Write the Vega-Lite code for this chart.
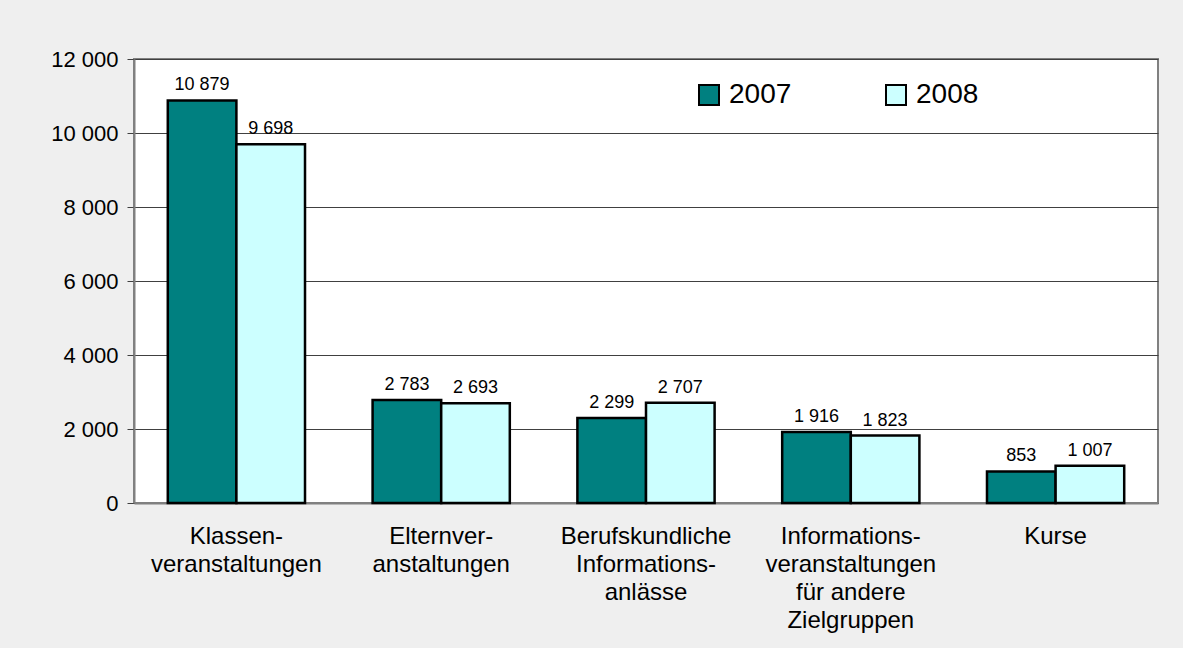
{
  "$schema": "https://vega.github.io/schema/vega-lite/v6.json",
  "width": 1024,
  "height": 444,
  "autosize": {"type": "none"},
  "padding": {"left": 134, "top": 59, "right": 25, "bottom": 145},
  "background": "#efefef",
  "config": {
    "locale": {"number": {"decimal": ",", "thousands": " ", "grouping": [3], "currency": ["", ""]}},
    "view": {"fill": "white", "stroke": "#808080", "strokeWidth": 2},
    "font": "Liberation Sans"
  },
  "data": {
    "values": [
      {"cat": "Klassen-|veranstaltungen", "year": "2007", "value": 10879},
      {"cat": "Klassen-|veranstaltungen", "year": "2008", "value": 9698},
      {"cat": "Elternver-|anstaltungen", "year": "2007", "value": 2783},
      {"cat": "Elternver-|anstaltungen", "year": "2008", "value": 2693},
      {"cat": "Berufskundliche|Informations-|anlässe", "year": "2007", "value": 2299},
      {"cat": "Berufskundliche|Informations-|anlässe", "year": "2008", "value": 2707},
      {"cat": "Informations-|veranstaltungen|für andere|Zielgruppen", "year": "2007", "value": 1916},
      {"cat": "Informations-|veranstaltungen|für andere|Zielgruppen", "year": "2008", "value": 1823},
      {"cat": "Kurse", "year": "2007", "value": 853},
      {"cat": "Kurse", "year": "2008", "value": 1007}
    ]
  },
  "encoding": {
    "x": {
      "field": "cat",
      "type": "nominal",
      "sort": null,
      "scale": {"paddingInner": 0.33, "paddingOuter": 0.165},
      "axis": {
        "title": null,
        "labelAngle": 0,
        "labelExpr": "split(datum.label, '|')",
        "labelFontSize": 24,
        "labelLineHeight": 28,
        "labelColor": "black",
        "labelPadding": 21,
        "labelLimit": 0,
        "ticks": false,
        "domainColor": "#808080",
        "domainWidth": 2,
        "labelBaseline": "top"
      }
    },
    "xOffset": {"field": "year", "type": "nominal", "sort": ["2007", "2008"]},
    "y": {
      "field": "value",
      "type": "quantitative",
      "scale": {"domain": [0, 12000], "nice": false},
      "axis": {
        "title": null,
        "values": [0, 2000, 4000, 6000, 8000, 10000, 12000],
        "format": ",d",
        "labelFontSize": 22,
        "labelColor": "black",
        "labelPadding": 9,
        "tickSize": 7,
        "tickColor": "#404040",
        "tickWidth": 1,
        "domainColor": "#808080",
        "domainWidth": 2,
        "grid": true,
        "gridColor": "#404040",
        "gridWidth": 1
      }
    }
  },
  "layer": [
    {
      "mark": {"type": "bar", "stroke": "black", "strokeWidth": 2.5},
      "encoding": {
        "color": {
          "field": "year",
          "type": "nominal",
          "scale": {"domain": ["2007", "2008"], "range": ["#008080", "#ccffff"]},
          "legend": {
            "title": null,
            "orient": "none",
            "legendX": 561,
            "legendY": 22,
            "direction": "horizontal",
            "symbolType": "square",
            "symbolSize": 400,
            "symbolStrokeColor": "black",
            "symbolStrokeWidth": 2,
            "symbolOpacity": 1,
            "labelFontSize": 28,
            "labelColor": "black",
            "labelOffset": 6,
            "columnPadding": 90
          }
        }
      }
    },
    {
      "mark": {"type": "text", "baseline": "alphabetic", "dy": -10, "fontSize": 18, "font": "Liberation Sans", "color": "black"},
      "encoding": {
        "text": {"field": "value", "type": "quantitative", "format": ",d"}
      }
    }
  ]
}
